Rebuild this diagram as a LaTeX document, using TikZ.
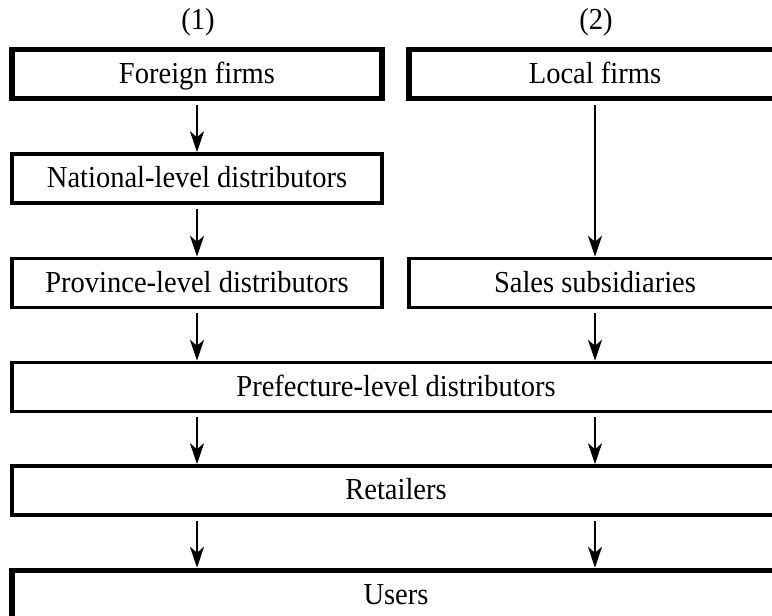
\documentclass[tikz,border=0pt]{standalone}
\usepackage{fontspec}
\setmainfont[FakeStretch=0.935]{Liberation Serif}
\usetikzlibrary{arrows.meta}
\begin{document}
\begin{tikzpicture}[x=1pt,y=-1pt,
  every node/.style={font=\fontsize{30.5}{36}\selectfont},
  box/.style={draw, rectangle, inner sep=0pt, minimum height=49pt, line width=3.5pt,
              text height=23pt, text depth=5pt},
  thickbox/.style={box, line width=5.5pt},
  leftbox/.style={minimum width=370pt},
  rightbox/.style={minimum width=372pt},
  fullbox/.style={minimum width=768pt},
  arr/.style={line width=2.4pt, -{Stealth[length=21pt, width=14pt, inset=6pt]}}
]
\useasboundingbox (0,0) rectangle (772,616);
\clip (0,0) rectangle (772,616);

\node (h1) at (198,22) {(1)};
\node (h2) at (596,22) {(2)};

\node[thickbox, leftbox]  (foreign)  at (197,74)  {Foreign firms};
\node[thickbox, rightbox] (local)    at (595,74)  {Local firms};
\node[box, leftbox]       (national) at (197,178.5) {National-level distributors};
\node[box, leftbox]       (province) at (197,283) {Province-level distributors};
\node[box, rightbox]      (sales)    at (595,283) {Sales subsidiaries};
\node[box, fullbox]       (pref)     at (396,387) {Prefecture-level distributors};
\node[box, fullbox]       (retail)   at (396,490.5) {Retailers};
\node[thickbox, fullbox]  (users)    at (396,595) {Users};

\draw[arr] ([yshift=-4pt]foreign.south) -- (national.north);
\draw[arr] ([yshift=-4pt]national.south) -- (province.north);
\draw[arr] ([yshift=-4pt]local.south) -- (sales.north);
\draw[arr] ([yshift=-4pt]province.south) -- (pref.north -| province.south);
\draw[arr] ([yshift=-4pt]sales.south) -- (pref.north -| sales.south);
\draw[arr] ([yshift=-4pt]pref.south -| foreign.south) -- (retail.north -| foreign.south);
\draw[arr] ([yshift=-4pt]pref.south -| local.south) -- (retail.north -| local.south);
\draw[arr] ([yshift=-4pt]retail.south -| foreign.south) -- (users.north -| foreign.south);
\draw[arr] ([yshift=-4pt]retail.south -| local.south) -- (users.north -| local.south);
\end{tikzpicture}
\end{document}
